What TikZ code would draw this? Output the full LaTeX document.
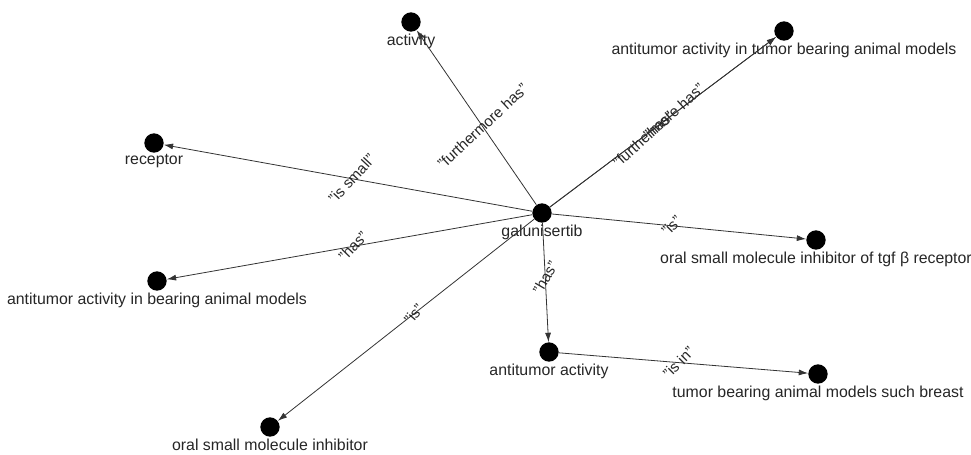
\documentclass[tikz,border=0pt]{standalone}
\usepackage{fontspec}
\setmainfont{Liberation Sans}
\usetikzlibrary{positioning,arrows.meta}

\tikzstyle{vertex} = [circle,fill=black,inner sep=0pt,minimum size=14.5pt]
\tikzstyle{vtext} = [inner sep=1pt,font=\fontsize{11.9}{13}\selectfont,text=black!85]
\tikzstyle{reltext} = [inner sep=0pt,font=\fontsize{11.3}{12}\selectfont,text=black!85]
\tikzstyle{relarrow} = [draw=black!80,line width=0.6pt,-{Latex[length=7pt,width=4.5pt]}]

\begin{document}
\begin{tikzpicture}[x=0.75pt,y=-0.75pt]
	\useasboundingbox (0,0) rectangle (971,454);
	\node[vertex] (gal) at (542,213) {};
	\node[vertex] (act) at (411,22) {};
	\node[vertex] (atm) at (784,31) {};
	\node[vertex] (rec) at (154,143) {};
	\node[vertex] (tgf) at (816,240) {};
	\node[vertex] (abm) at (157,281) {};
	\node[vertex] (aa) at (549,352) {};
	\node[vertex] (tbm) at (818,374) {};
	\node[vertex] (omi) at (270,427) {};
	\node[vtext, below=0pt of gal] (galtext) {galunisertib};
	\node[vtext, below=0pt of act] (acttext) {activity};
	\node[vtext, below=0pt of atm] (atmtext) {antitumor activity in tumor bearing animal models};
	\node[vtext, below=0pt of rec] (rectext) {receptor};
	\node[vtext, below=0pt of tgf] (tgftext) {oral small molecule inhibitor of tgf β receptor};
	\node[vtext, below=0pt of abm] (abmtext) {antitumor activity in bearing animal models};
	\node[vtext, below=0pt of aa] (aatext) {antitumor activity};
	\node[vtext, below=0pt of tbm] (tbmtext) {tumor bearing animal models such breast};
	\node[vtext, below=0pt of omi] (omitext) {oral small molecule inhibitor};
	\draw[relarrow] (gal) -- node[reltext, pos=0.45, rotate=43] {"furthermore has"} (act);
	\draw[relarrow] (gal) -- node[reltext, pos=0.48, rotate=42] {"furthermore has"} (atm);
	\draw[relarrow] (gal) -- node[reltext, pos=0.48, rotate=42] {"has"} (atm);
	\draw[relarrow] (gal) -- node[reltext, pos=0.49, rotate=47] {"is small"} (rec);
	\draw[relarrow] (gal) -- node[reltext, pos=0.49, rotate=46] {"has"} (abm);
	\draw[relarrow] (gal) -- node[reltext, pos=0.47, rotate=50] {"is"} (omi);
	\draw[relarrow] (gal) -- node[reltext, pos=0.46, rotate=60] {"has"} (aa);
	\draw[relarrow] (gal) -- node[reltext, pos=0.47, rotate=45] {"is"} (tgf);
	\draw[relarrow] (aa) -- node[reltext, pos=0.48, rotate=45] {"is in"} (tbm);
\end{tikzpicture}
\end{document}
